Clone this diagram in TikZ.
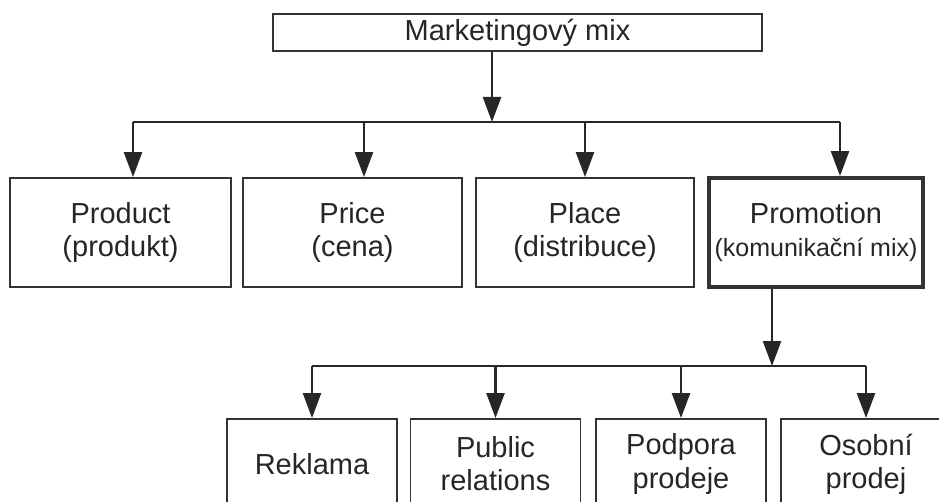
\documentclass[tikz,border=0pt]{standalone}
\usepackage{fontspec}
\setmainfont{Liberation Sans}
\usetikzlibrary{arrows.meta}
\begin{document}
\begin{tikzpicture}[x=1pt,y=-1pt,
	box/.style={draw=black!80,line width=1.9pt,align=center,inner sep=0pt,
		text=black!85,font=\fontsize{29}{33}\selectfont},
	topbox/.style={box,minimum width=489pt,minimum height=37pt},
	mixbox/.style={box,minimum width=220pt,minimum height=109pt},
	subbox/.style={box,minimum width=170pt,minimum height=90pt},
	bus/.style={line width=2.5pt,draw=black!85},
	arr/.style={bus,-{Triangle[length=25pt,width=18pt]}}]
		\useasboundingbox (0,0) rectangle (939,502);
		
		\node[topbox] (mix) at (517.5,32.5) {Marketingový mix};
		
		\node[mixbox,minimum width=221pt] (prod) at (120.5,232.5) {Product\\(produkt)};
		\node[mixbox,minimum width=219pt] (price) at (352.5,232.5) {Price\\(cena)};
		\node[mixbox,minimum width=218pt] (place) at (585,232.5) {Place\\(distribuce)};
		\node[mixbox,minimum width=214pt,line width=3.8pt] (promo) at (816,232.5)
			{Promotion\\\fontsize{25}{33}\selectfont(komunikační mix)};
		
		\node[subbox] (rekl) at (312,464) {Reklama};
		\node[subbox] (pr) at (495.5,464) {Public\\relations};
		\node[subbox] (podp) at (681,464) {Podpora\\prodeje};
		\node[subbox] (osob) at (866,464) {Osobní\\prodej};
		
		% first level
		\coordinate (bus1) at (492,122);
		\draw[arr] ([xshift=-25.5pt]mix.south) -- ([xshift=-25.5pt]mix.south |- bus1);
		\draw[bus] ([xshift=12.5pt]prod.north |- bus1) -- ([xshift=24pt]promo.north |- bus1);
		\draw[arr] ([xshift=12.5pt]prod.north |- bus1) -- ([xshift=12.5pt]prod.north);
		\draw[arr] ([xshift=11.5pt]price.north |- bus1) -- ([xshift=11.5pt]price.north);
		\draw[arr] (place.north |- bus1) -- (place.north);
		\draw[arr] ([xshift=24pt]promo.north |- bus1) -- ([xshift=24pt]promo.north);
		
		% second level
		\coordinate (bus2) at (772,366);
		\draw[arr] ([xshift=-44pt]promo.south) -- ([xshift=-44pt]promo.south |- bus2);
		\draw[bus] (rekl.north |- bus2) -- (osob.north |- bus2);
		\draw[arr] (rekl.north |- bus2) -- (rekl.north);
		\draw[arr] (pr.north |- bus2) -- (pr.north);
		\draw[arr] (podp.north |- bus2) -- (podp.north);
		\draw[arr] (osob.north |- bus2) -- (osob.north);
\end{tikzpicture}
\end{document}
